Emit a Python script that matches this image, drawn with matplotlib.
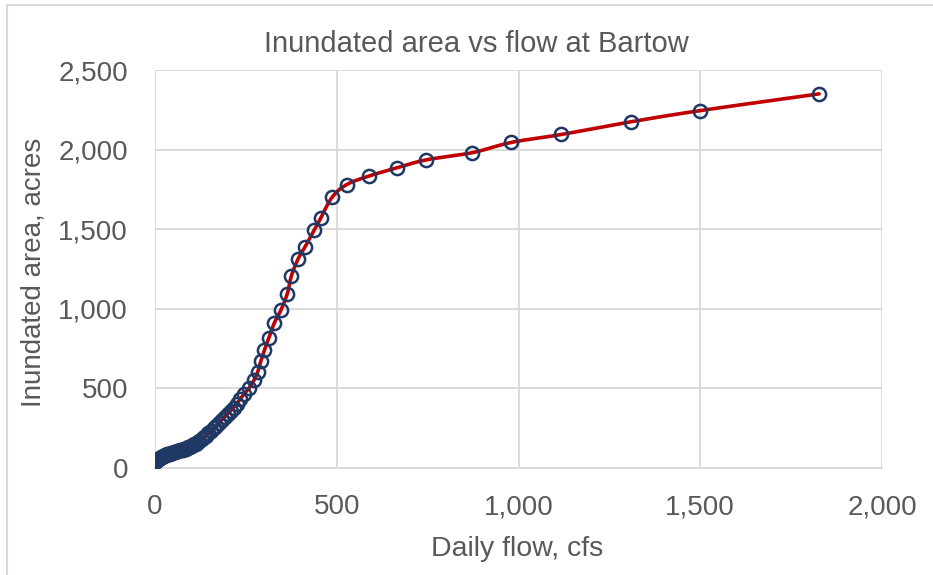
import numpy as np
import matplotlib
matplotlib.use("Agg")
import matplotlib.pyplot as plt
from matplotlib.ticker import FuncFormatter
from matplotlib.lines import Line2D

# ---- data ----
flow_cfs = [0, 2, 4, 6, 8, 10, 13, 16, 19, 22, 25, 28, 31, 34, 37, 40, 44, 48, 52, 56,
            60, 64, 68, 72, 76, 80, 84, 88, 92, 96, 100, 104, 108, 112, 117, 122, 128,
            134, 140, 147, 154, 161, 168, 176, 184, 192, 200, 208, 216, 225, 234, 244,
            258, 272, 282, 291, 301, 313, 328, 346, 364, 375, 393, 413, 438, 456, 487,
            527, 590, 665, 745, 872, 980, 1118, 1310, 1500, 1827]
area_acres = [38, 42, 46, 50, 54, 57, 62, 66, 70, 74, 77, 80, 83, 86, 88, 91, 94, 97, 100, 103,
              106, 108, 111, 114, 116, 119, 122, 125, 129, 133, 138, 142, 148, 153, 161, 170, 181,
              192, 204, 219, 234, 250, 266, 285, 303, 322, 341, 360, 380, 405, 432, 462,
              500, 550, 600, 670, 740, 815, 910, 990, 1095, 1205, 1310, 1390, 1495, 1570, 1700,
              1780, 1835, 1885, 1935, 1980, 2045, 2095, 2175, 2245, 2350]

x_ticks = [0, 500, 1000, 1500, 2000]
y_ticks = [0, 500, 1000, 1500, 2000, 2500]

title = "Inundated area vs flow at Bartow"
x_label = "Daily flow, cfs"
y_label = "Inundated area, acres"

# ---- style ----
plt.rcParams['font.family'] = ['Liberation Sans', 'DejaVu Sans']
txt_color = '#595959'
grid_color = '#D9D9D9'
line_color = '#C00000'
marker_color = '#1F3864'

W, H = 933, 575
fig = plt.figure(figsize=(W / 100, H / 100), dpi=100)
left, right, top, bottom = 155, 882, 70, 468
ax = fig.add_axes([left / W, 1 - bottom / H, (right - left) / W, (bottom - top) / H])


def smooth_path(x, y, n=12):
    """Catmull-Rom style smoothing of the drawn line (rendering only)."""
    x = np.asarray(x, float)
    y = np.asarray(y, float)
    px = np.concatenate([[2 * x[0] - x[1]], x, [2 * x[-1] - x[-2]]])
    py = np.concatenate([[2 * y[0] - y[1]], y, [2 * y[-1] - y[-2]]])
    ox, oy = [], []
    t = np.linspace(0, 1, n, endpoint=False)
    for i in range(1, len(px) - 2):
        p0, p1, p2, p3 = px[i - 1], px[i], px[i + 1], px[i + 2]
        q0, q1, q2, q3 = py[i - 1], py[i], py[i + 1], py[i + 2]
        for arr, a0, a1, a2, a3 in ((ox, p0, p1, p2, p3), (oy, q0, q1, q2, q3)):
            arr.extend(0.5 * ((2 * a1) + (-a0 + a2) * t +
                              (2 * a0 - 5 * a1 + 4 * a2 - a3) * t ** 2 +
                              (-a0 + 3 * a1 - 3 * a2 + a3) * t ** 3))
    ox.append(x[-1])
    oy.append(y[-1])
    return np.array(ox), np.array(oy)


sx, sy = smooth_path(flow_cfs, area_acres)
ax.plot(sx, sy, color=line_color, lw=2.6, zorder=3, solid_capstyle='round')
ax.plot(flow_cfs, area_acres, linestyle='none', marker='o', markersize=9.5,
        markerfacecolor='none', markeredgecolor=marker_color, markeredgewidth=1.8, zorder=4)

ax.set_xlim(0, 2000)
ax.set_ylim(0, 2500)
ax.set_xticks(x_ticks)
ax.set_yticks(y_ticks)
fmt = FuncFormatter(lambda v, p: f"{int(v):,}")
ax.xaxis.set_major_formatter(fmt)
ax.yaxis.set_major_formatter(fmt)
ax.tick_params(axis='both', length=0, labelsize=20, colors=txt_color)
ax.tick_params(axis='y', pad=19.5)
ax.tick_params(axis='x', pad=19)

ax.grid(True, color=grid_color, lw=1.3)
ax.set_axisbelow(True)
for s in ['top', 'right', 'left']:
    ax.spines[s].set_visible(False)
ax.spines['bottom'].set_color(grid_color)
ax.spines['bottom'].set_linewidth(1.3)

fig.text(0.5 * (258 + 695) / W, 1 - 44 / H, title, ha='center', va='center',
         fontsize=21, color=txt_color)
fig.text(517 / W, 1 - 549 / H, x_label, ha='center', va='center',
         fontsize=20.5, color=txt_color)
fig.text(34 / W, 1 - 272 / H, y_label, ha='center', va='center', rotation=90,
         fontsize=20, color=txt_color)

# chart-area border (left and top edges visible in the reference)
fig.add_artist(Line2D([7 / W, 7 / W], [0, 1 - 5 / H], transform=fig.transFigure,
                      color=grid_color, lw=1.5))
fig.add_artist(Line2D([7 / W, 1], [1 - 5 / H, 1 - 5 / H], transform=fig.transFigure,
                      color=grid_color, lw=1.5))

fig.savefig("out.png", dpi=100, facecolor='white')
